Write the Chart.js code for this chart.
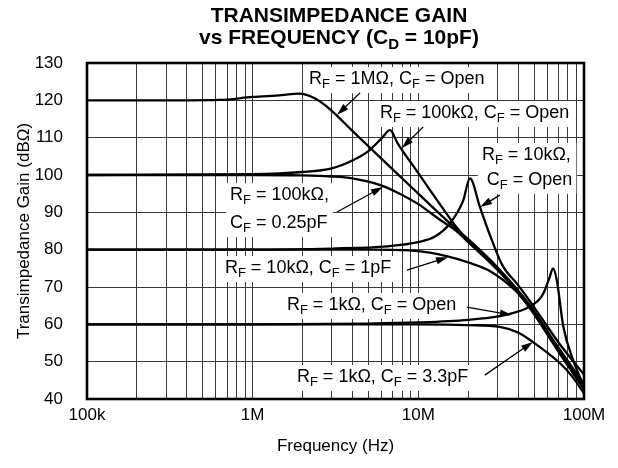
<!DOCTYPE html>
<html>
<head>
<meta charset="utf-8">
<script src="https://cdn.jsdelivr.net/npm/chart.js@4.4.1/dist/chart.umd.min.js"></script>
<style>
    html, body { margin: 0; padding: 0; background: #fff; }
    #wrap { width: 618px; height: 468px; }
</style>
</head>
<body>
<div id="wrap"><canvas id="gainChart" width="618" height="468"></canvas></div>
<script>
// axis ticks
const xTickValues = [1e5, 1e6, 1e7, 1e8];
const xTickLabels = ["100k", "1M", "10M", "100M"];
const yTickValues = [40, 50, 60, 70, 80, 90, 100, 110, 120, 130];

// RF = 1MΩ, CF = Open
const rf1MegOpenFreq = [1e5, 4e5, 6.3e5, 1e6, 1.5e6, 1.9e6, 2.4e6, 3e6, 4e6, 5e6, 7e6, 1e7, 1.3e7, 1.7e7, 2e7, 3e7, 4.7e7, 7e7, 1e8];
const rf1MegOpenGain = [120, 120, 120.1, 120.9, 121.4, 121.8, 120.4, 117.2, 111.8, 107.7, 101.5, 95.0, 90.2, 85.5, 82.8, 75.3, 65.2, 53.8, 44.0];

// RF = 100kΩ, CF = Open
const rf100kOpenFreq = [1e5, 1e6, 2e6, 3e6, 4e6, 5e6, 6e6, 6.75e6, 7.5e6, 1e7, 1.3e7, 1.7e7, 2e7, 3e7, 4.7e7, 7e7, 1e8];
const rf100kOpenGain = [100, 100.2, 100.8, 101.8, 103.9, 106.4, 109.8, 112.0, 108.5, 100.5, 93.2, 86.0, 82.4, 75.0, 64.9, 53.4, 43.6];

// RF = 100kΩ, CF = 0.25pF
const rf100kCapFreq = [1e5, 1e6, 2e6, 3e6, 4e6, 5.9e6, 7.4e6, 1e7, 1.35e7, 1.7e7, 2e7, 3e7, 4.7e7, 7e7, 1e8];
const rf100kCapGain = [100, 100, 99.9, 99.6, 99.1, 97.3, 95.4, 92.2, 88.0, 85.0, 82.0, 74.6, 64.5, 53.0, 43.1];

// RF = 10kΩ, CF = Open
const rf10kOpenFreq = [1e5, 1e6, 3e6, 6.5e6, 1e7, 1.26e7, 1.55e7, 1.86e7, 2.05e7, 2.35e7, 2.7e7, 3.2e7, 4e7, 4.7e7, 7e7, 1e8];
const rf10kOpenGain = [80, 80, 80.3, 80.9, 82.0, 83.5, 87.0, 93.0, 99.1, 91.5, 84.0, 76.0, 70.5, 66.3, 55.2, 46.5];

// RF = 10kΩ, CF = 1pF
const rf10kCapFreq = [1e5, 1e6, 5e6, 1e7, 1.5e7, 2e7, 2.7e7, 3.9e7, 4.7e7, 7e7, 1e8];
const rf10kCapGain = [80, 80, 80, 79.6, 78.2, 76.6, 74.3, 68.8, 64.4, 52.7, 42.6];

// RF = 1kΩ, CF = Open
const rf1kOpenFreq = [1e5, 1e6, 5e6, 1e7, 2e7, 3.1e7, 3.7e7, 4.5e7, 5.4e7, 5.7e7, 6.2e7, 6.5e7, 6.85e7, 7.5e7, 8.6e7, 1e8];
const rf1kOpenGain = [60, 60, 60.2, 60.5, 61.2, 62.2, 63.0, 64.3, 66.8, 68.4, 72.6, 75.0, 71.9, 59.4, 50.4, 43.3];

// RF = 1kΩ, CF = 3.3pF
const rf1kCapFreq = [1e5, 1e6, 1e7, 2e7, 3.1e7, 4e7, 4.9e7, 6e7, 7.2e7, 8.5e7, 1e8];
const rf1kCapGain = [60, 60, 60, 59.8, 59.3, 57.8, 55.3, 52.4, 49.5, 46.0, 41.5];

const seriesList = [
    ["RF = 1MΩ, CF = Open", rf1MegOpenFreq, rf1MegOpenGain],
    ["RF = 100kΩ, CF = Open", rf100kOpenFreq, rf100kOpenGain],
    ["RF = 100kΩ, CF = 0.25pF", rf100kCapFreq, rf100kCapGain],
    ["RF = 10kΩ, CF = Open", rf10kOpenFreq, rf10kOpenGain],
    ["RF = 10kΩ, CF = 1pF", rf10kCapFreq, rf10kCapGain],
    ["RF = 1kΩ, CF = Open", rf1kOpenFreq, rf1kOpenGain],
    ["RF = 1kΩ, CF = 3.3pF", rf1kCapFreq, rf1kCapGain],
];

// callouts, placed in data units (freq, dB); "_X" = subscript
const callouts = [
    { lines: [["R_F = 1MΩ, C_F = Open", 2.19e6, 125.7]], arrow: [4.45e6, 122.0, 3.23e6, 116.1] },
    { lines: [["R_F = 100kΩ, C_F = Open", 5.86e6, 116.6]], arrow: [1.07e7, 112.9, 7.96e6, 107.2] },
    { lines: [["R_F = 10kΩ,", 2.42e7, 105.4], ["C_F = Open", 2.59e7, 98.7]], arrow: [3.1e7, 94.6, 2.36e7, 91.4] },
    { lines: [["R_F = 100kΩ,", 7.3e5, 94.6], ["C_F = 0.25pF", 7.3e5, 87.1]], arrow: [3.23e6, 90.1, 6.11e6, 96.8] },
    { lines: [["R_F = 10kΩ, C_F = 1pF", 6.8e5, 75.1]], arrow: [8.53e6, 74.5, 1.51e7, 78.0] },
    { lines: [["R_F = 1kΩ, C_F = Open", 1.61e6, 65.2]], arrow: [1.96e7, 64.6, 3.67e7, 62.5] },
    { lines: [["R_F = 1kΩ, C_F = 3.3pF", 1.85e6, 45.9]], arrow: [2.52e7, 46.4, 4.92e7, 55.3] },
];

const FONT = '"Liberation Sans", Arial, Helvetica, sans-serif';
const NOTE_SIZE = 18;

function richParts(text) {
    const parts = [];
    let buf = "";
    for (let i = 0; i < text.length; i++) {
        if (text[i] === "_" && i + 1 < text.length) {
            if (buf) parts.push({ t: buf, sub: false });
            parts.push({ t: text[i + 1], sub: true });
            buf = "";
            i++;
        } else {
            buf += text[i];
        }
    }
    if (buf) parts.push({ t: buf, sub: false });
    return parts;
}

function drawRich(ctx, text, x, y, size, weight, align, measureOnly) {
    const parts = richParts(text);
    const fontOf = (p) => weight + " " + (p.sub ? Math.round(size * 0.72) : size) + "px " + FONT;
    let total = 0;
    parts.forEach((p) => {
        ctx.font = fontOf(p);
        p.w = ctx.measureText(p.t).width;
        total += p.w;
    });
    if (measureOnly) return total;
    let cx = align === "center" ? x - total / 2 : x;
    ctx.textAlign = "left";
    ctx.textBaseline = "middle";
    parts.forEach((p) => {
        ctx.font = fontOf(p);
        ctx.fillText(p.t, cx, p.sub ? y + size * 0.32 : y);
        cx += p.w;
    });
    return total;
}

function calloutBox(chart, note) {
    const xs = chart.scales.x, ys = chart.scales.y, ctx = chart.ctx;
    let x0 = Infinity, x1 = -Infinity, y0 = Infinity, y1 = -Infinity;
    note.lines.forEach(([text, f, g]) => {
        const px = xs.getPixelForValue(f), py = ys.getPixelForValue(g);
        const w = drawRich(ctx, text, px, py, NOTE_SIZE, "normal", "left", true);
        x0 = Math.min(x0, px - 4);
        x1 = Math.max(x1, px + w + 4);
        y0 = Math.min(y0, py - 12);
        y1 = Math.max(y1, py + 14);
    });
    return { x0, x1, y0, y1 };
}

function drawArrow(ctx, x0, y0, x1, y1) {
    const ang = Math.atan2(y1 - y0, x1 - x0);
    const len = 12, half = 3.6;
    ctx.beginPath();
    ctx.moveTo(x0, y0);
    ctx.lineTo(x1 - Math.cos(ang) * len * 0.8, y1 - Math.sin(ang) * len * 0.8);
    ctx.stroke();
    ctx.beginPath();
    ctx.moveTo(x1, y1);
    ctx.lineTo(x1 - Math.cos(ang) * len - Math.sin(ang) * half, y1 - Math.sin(ang) * len + Math.cos(ang) * half);
    ctx.lineTo(x1 - Math.cos(ang) * len + Math.sin(ang) * half, y1 - Math.sin(ang) * len - Math.cos(ang) * half);
    ctx.closePath();
    ctx.fill();
}

const decorPlugin = {
    id: "decor",
    beforeDatasetsDraw(chart) {
        // white boxes hide the grid behind the callouts
        const ctx = chart.ctx;
        ctx.save();
        ctx.fillStyle = "#fff";
        callouts.forEach((n) => {
            const b = calloutBox(chart, n);
            ctx.fillRect(b.x0, b.y0, b.x1 - b.x0, b.y1 - b.y0);
        });
        ctx.restore();
    },
    afterDatasetsDraw(chart) {
        const ctx = chart.ctx, xs = chart.scales.x, ys = chart.scales.y;
        const area = chart.chartArea;
        ctx.save();
        ctx.fillStyle = "#000";
        ctx.strokeStyle = "#000";
        ctx.lineWidth = 1.3;
        callouts.forEach((n) => {
            n.lines.forEach(([text, f, g]) => {
                drawRich(ctx, text, xs.getPixelForValue(f), ys.getPixelForValue(g), NOTE_SIZE, "normal", "left");
            });
            const a = n.arrow;
            drawArrow(ctx, xs.getPixelForValue(a[0]), ys.getPixelForValue(a[1]),
                xs.getPixelForValue(a[2]), ys.getPixelForValue(a[3]));
        });
        // plot frame
        ctx.lineWidth = 2.6;
        ctx.strokeRect(area.left, area.top, area.right - area.left, area.bottom - area.top);
        ctx.restore();
    },
    afterDraw(chart) {
        const ctx = chart.ctx, area = chart.chartArea;
        ctx.save();
        ctx.fillStyle = "#000";
        drawRich(ctx, "TRANSIMPEDANCE GAIN", 339, 16, 21, "bold", "center");
        drawRich(ctx, "vs FREQUENCY (C_D = 10pF)", 339, 38, 21, "bold", "center");
        drawRich(ctx, "Frequency (Hz)", (area.left + area.right) / 2, 446, 17, "normal", "center");
        ctx.translate(24, (area.top + area.bottom) / 2);
        ctx.rotate(-Math.PI / 2);
        drawRich(ctx, "Transimpedance Gain (dBΩ)", 0, 0, 17, "normal", "center");
        ctx.restore();
    },
};

function initializeChart() {
    const ctx = document.getElementById("gainChart");
    if (!ctx) return;

    const datasets = seriesList.map(([label, freqs, gains]) => ({
        label: label,
        data: freqs.map((f, i) => ({ x: f, y: gains[i] })),
        borderColor: "#000",
        borderWidth: 2.3,
        pointRadius: 0,
        fill: false,
        cubicInterpolationMode: "monotone",
    }));

    const gridFreqs = [];
    for (let d = 1e5; d < 1e8; d *= 10) {
        for (let k = 1; k < 10; k++) gridFreqs.push(k * d);
    }
    gridFreqs.push(1e8);

    const config = {
        type: "line",
        data: { datasets: datasets },
        options: {
            responsive: false,
            animation: false,
            layout: { padding: { top: 63, right: 34, left: 0, bottom: 0 } },
            plugins: {
                legend: { display: false },
                title: { display: false },
                tooltip: { enabled: false },
            },
            scales: {
                x: {
                    type: "logarithmic",
                    min: 1e5,
                    max: 1e8,
                    afterBuildTicks: (scale) => {
                        scale.ticks = gridFreqs.map((v) => ({ value: v }));
                    },
                    afterFit: (scale) => { scale.height = 69; },
                    ticks: {
                        autoSkip: false,
                        maxRotation: 0,
                        padding: 6,
                        color: "#000",
                        font: { family: FONT, size: 17 },
                        callback: (v) => {
                            const i = xTickValues.findIndex((t) => Math.abs(t - v) / t < 1e-6);
                            return i >= 0 ? xTickLabels[i] : "";
                        },
                    },
                    grid: { color: "#3a3a3a", lineWidth: 1, drawTicks: false },
                    border: { display: false },
                },
                y: {
                    min: 40,
                    max: 130,
                    afterBuildTicks: (scale) => {
                        scale.ticks = yTickValues.map((v) => ({ value: v }));
                    },
                    afterFit: (scale) => { scale.width = 87; },
                    ticks: {
                        padding: 24,
                        color: "#000",
                        font: { family: FONT, size: 17 },
                    },
                    grid: { color: "#3a3a3a", lineWidth: 1, drawTicks: false },
                    border: { display: false },
                },
            },
        },
        plugins: [decorPlugin],
    };

    try {
        new Chart(ctx, config);
    } catch (error) {
        console.error("Chart initialization error:", error);
    }
}

document.addEventListener("DOMContentLoaded", initializeChart);
</script>
</body>
</html>
